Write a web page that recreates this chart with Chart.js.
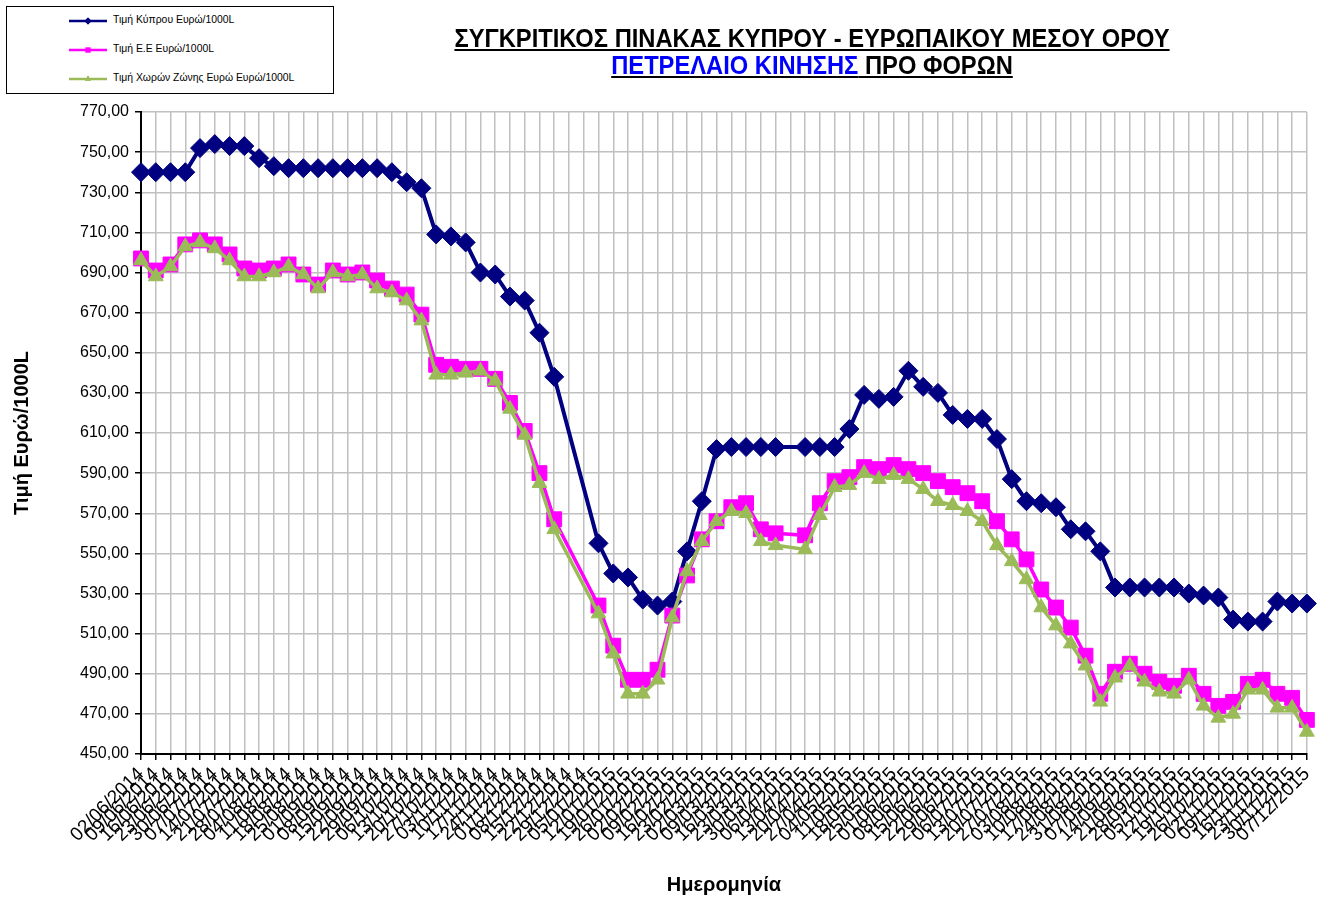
<!DOCTYPE html>
<html>
<head>
<meta charset="utf-8">
<script src="https://cdn.jsdelivr.net/npm/chart.js@4.4.1/dist/chart.umd.min.js"></script>
<style>
  html, body { margin: 0; padding: 0; background: #fff; }
  #wrap { position: relative; width: 1326px; height: 897px; overflow: hidden; }
  #chart { position: absolute; left: 0; top: 0; }
  #legend {
    position: absolute; left: 6px; top: 6px; width: 326px; height: 86px;
    border: 1px solid #000; background: #fff;
    font-family: "Liberation Sans", Arial, sans-serif; font-size: 10.4px; color: #000;
  }
  .item { position: absolute; left: 60px; height: 14px; }
  .item canvas { position: absolute; left: 0; top: 0; }
  .item span { position: absolute; left: 46px; top: 0px; white-space: nowrap; }
  #title {
    position: absolute; left: 812px; top: 25px; text-align: center; white-space: nowrap;
    font-family: "Liberation Sans", Arial, sans-serif;
    font-weight: bold; font-size: 26px; line-height: 27px; color: #000;
  }
  #title u { text-decoration-thickness: 2px; text-underline-offset: 2px; }
  #title .blue { color: #0000ff; }
</style>
</head>
<body>
<div id="wrap">
  <canvas id="chart" width="1326" height="897"></canvas>
  <div id="legend"></div>
  <div id="title">
    <u id="t1">ΣΥΓΚΡΙΤΙΚΟΣ ΠΙΝΑΚΑΣ ΚΥΠΡΟΥ - ΕΥΡΩΠΑΙΚΟΥ ΜΕΣΟΥ ΟΡΟΥ</u><br>
    <u><span class="blue">ΠΕΤΡΕΛΑΙΟ ΚΙΝΗΣΗΣ</span> ΠΡΟ ΦΟΡΩΝ</u>
  </div>
</div>
<script>
'use strict';

// weekly dates (Mondays), no data for the christmas weeks and easter monday
let dates = [
  '02/06/2014', '09/06/2014', '16/06/2014', '23/06/2014', '30/06/2014',
  '07/07/2014', '14/07/2014', '21/07/2014', '28/07/2014', '04/08/2014',
  '11/08/2014', '18/08/2014', '25/08/2014', '01/09/2014', '08/09/2014',
  '15/09/2014', '22/09/2014', '29/09/2014', '06/10/2014', '13/10/2014',
  '20/10/2014', '27/10/2014', '03/11/2014', '10/11/2014', '17/11/2014',
  '24/11/2014', '01/12/2014', '08/12/2014', '15/12/2014', '22/12/2014',
  '29/12/2014', '05/01/2015', '12/01/2015', '19/01/2015', '26/01/2015',
  '02/02/2015', '09/02/2015', '16/02/2015', '23/02/2015', '02/03/2015',
  '09/03/2015', '16/03/2015', '23/03/2015', '30/03/2015', '06/04/2015',
  '13/04/2015', '20/04/2015', '27/04/2015', '04/05/2015', '11/05/2015',
  '18/05/2015', '25/05/2015', '01/06/2015', '08/06/2015', '15/06/2015',
  '22/06/2015', '29/06/2015', '06/07/2015', '13/07/2015', '20/07/2015',
  '27/07/2015', '03/08/2015', '10/08/2015', '17/08/2015', '24/08/2015',
  '31/08/2015', '07/09/2015', '14/09/2015', '21/09/2015', '28/09/2015',
  '05/10/2015', '12/10/2015', '19/10/2015', '26/10/2015', '02/11/2015',
  '09/11/2015', '16/11/2015', '23/11/2015', '30/11/2015', '07/12/2015'
];

let cyprusPrice = [
  740, 740, 740, 740, 752, 754, 753, 753, 747, 743,
  742, 742, 742, 742, 742, 742, 742, 740, 735, 732,
  709, 708, 705, 690, 689, 678, 676, 660, 638, null,
  null, 555, 540, 538, 527, 524, 526, 551, 576, 602,
  603, 603, 603, 603, null, 603, 603, 603, 612, 629,
  627, 628, 641, 633, 630, 619, 617, 617, 607, 587,
  576, 575, 573, 562, 561, 551, 533, 533, 533, 533,
  533, 530, 529, 528, 517, 516, 516, 526, 525, 525
];

let euPrice = [
  697, 691, 694, 704, 706, 704, 699, 692, 691, 692,
  694, 689, 684, 691, 689, 690, 686, 682, 679, 669,
  644, 643, 642, 642, 637, 625, 611, 590, 567, null,
  null, 524, 504, 487, 487, 492, 519, 539, 557, 566,
  573, 575, 562, 560, null, 559, 575, 586, 588, 593,
  592, 594, 592, 590, 586, 583, 580, 576, 566, 557,
  547, 532, 523, 513, 499, 480, 491, 495, 490, 486,
  484, 489, 480, 474, 476, 485, 487, 480, 478, 467
];

let euroZonePrice = [
  696, 688, 693, 703, 705, 702, 696, 688, 688, 690,
  693, 689, 682, 690, 688, 689, 682, 680, 676, 666,
  639, 639, 640, 641, 636, 622, 609, 585, 562, null,
  null, 520, 500, 480, 480, 487, 518, 541, 556, 566,
  571, 570, 556, 554, null, 552, 569, 583, 584, 590,
  587, 589, 587, 582, 576, 574, 571, 566, 554, 546,
  537, 523, 514, 505, 494, 476, 488, 494, 486, 481,
  480, 487, 474, 468, 470, 482, 482, 473, 473, 461
];

let seriesNames = [
  'Τιμή Κύπρου Ευρώ/1000L',
  'Τιμή Ε.Ε Ευρώ/1000L',
  'Τιμή Χωρών Ζώνης Ευρώ Ευρώ/1000L'
];

let yMin = 450;
let yMax = 770;
let yStep = 20;

let colors = ['#000080', '#ff00ff', '#9bbb59'];
let markers = ['rectRot', 'rect', 'triangle'];
let markerSizes = [9.5, 10.5, 8.5];
let lineWidths = [4, 3.5, 3.5];
let seriesValues = [cyprusPrice, euPrice, euroZonePrice];

let datasets = [];
for (let i = 0; i < seriesValues.length; i++) {
  datasets.push({
    label: seriesNames[i],
    data: seriesValues[i],
    borderColor: colors[i],
    backgroundColor: colors[i],
    borderWidth: lineWidths[i],
    pointStyle: markers[i],
    pointRadius: markerSizes[i],
    pointBackgroundColor: colors[i],
    pointBorderColor: colors[i],
    pointBorderWidth: 1,
    spanGaps: true,
    tension: 0,
    order: seriesValues.length - i  // excel draws the last series on top
  });
}

const font = 'Liberation Sans, Arial, sans-serif';

let ctx = document.getElementById('chart').getContext('2d');
let myChart = new Chart(ctx, {
  type: 'line',
  data: {
    labels: dates,
    datasets: datasets
  },
  options: {
    responsive: false,
    animation: false,
    layout: { padding: { top: 112, right: 15, left: 8, bottom: 0 } },
    plugins: {
      legend: { display: false },
      tooltip: { enabled: false }
    },
    scales: {
      x: {
        offset: false,
        grid: { color: '#c0c0c0', lineWidth: 1.5, tickColor: '#000', tickLength: 6, tickWidth: 1.5 },
        border: { color: '#000', width: 2 },
        ticks: {
          autoSkip: false, minRotation: 45, maxRotation: 45, padding: 3,
          color: '#000', font: { family: font, size: 19 }
        },
        title: {
          display: true, text: 'Ημερομηνία', color: '#000',
          font: { family: font, size: 20, weight: 'bold' }, padding: { top: 4, bottom: 0 }
        },
        afterFit: function (scale) { scale.height = 897 - 754; }
      },
      y: {
        min: yMin,
        max: yMax,
        grid: { color: '#c0c0c0', lineWidth: 1.5, tickColor: '#000', tickLength: 6, tickWidth: 1.5 },
        border: { color: '#000', width: 2 },
        ticks: {
          stepSize: yStep, padding: 6, color: '#000',
          font: { family: font, size: 16 },
          callback: function (v) { return v.toFixed(2).replace('.', ','); }
        },
        title: {
          display: true, text: 'Τιμή Ευρώ/1000L', color: '#000',
          font: { family: font, size: 20, weight: 'bold' }, padding: { top: 2, bottom: 4 }
        },
        afterFit: function (scale) { scale.width = 141 - 8; }
      }
    }
  }
});

// legend box like the excel one, built from the datasets
function renderLegend() {
  let box = document.getElementById('legend');
  let tops = [7, 36, 65];
  myChart.data.datasets.forEach(function (ds, i) {
    let item = document.createElement('div');
    item.className = 'item';
    item.style.top = tops[i] + 'px';
    let c = document.createElement('canvas');
    c.width = 44; c.height = 14;
    let g = c.getContext('2d');
    g.strokeStyle = ds.borderColor;
    g.lineWidth = 2.5;
    g.beginPath(); g.moveTo(2, 7); g.lineTo(40, 7); g.stroke();
    g.fillStyle = ds.borderColor;
    Chart.helpers.drawPoint(g, { pointStyle: ds.pointStyle, radius: 3.5, borderWidth: 0 }, 21, 7);
    g.fill();
    let s = document.createElement('span');
    s.textContent = ds.label;
    item.appendChild(c);
    item.appendChild(s);
    box.appendChild(item);
  });
}
renderLegend();

// squeeze the title to the narrow width of the original
let title = document.getElementById('title');
let w = document.getElementById('t1').getBoundingClientRect().width;
title.style.transform = 'translateX(-50%) scaleX(' + (715 / w).toFixed(3) + ')';
</script>
</body>
</html>
